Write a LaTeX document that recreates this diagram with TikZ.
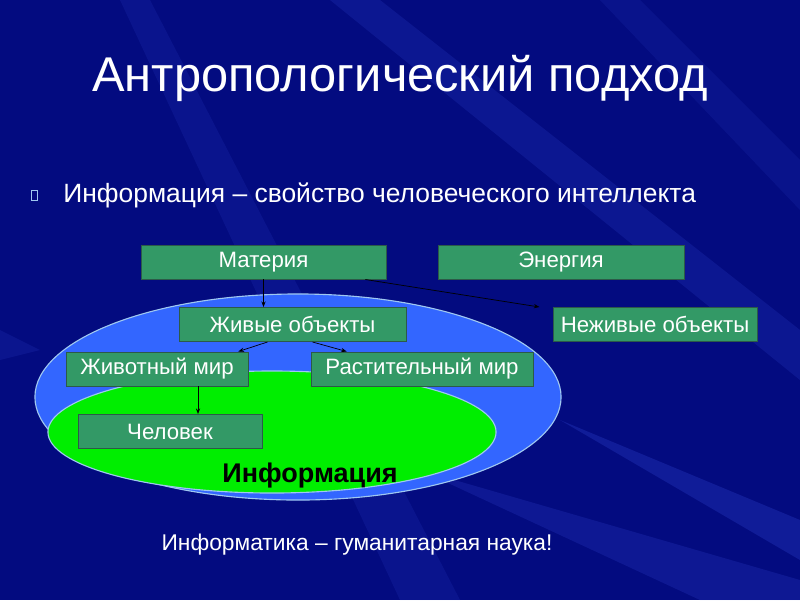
\documentclass[tikz,border=0pt]{standalone}
\usepackage{fontspec}
\setmainfont{Liberation Sans}
\usetikzlibrary{arrows.meta}

\definecolor{slidebg}{HTML}{030B80}
\definecolor{raycol}{HTML}{3A50E0}
\definecolor{boxgreen}{HTML}{339966}
\definecolor{boxline}{HTML}{2C5A48}
\definecolor{outerblue}{HTML}{3366FF}
\definecolor{innergreen}{HTML}{00EE00}
\definecolor{bulletcol}{HTML}{9FC8F0}

\begin{document}
\begin{tikzpicture}[x=0.025cm, y=-0.025cm,
    box/.style={rectangle, draw=boxline, fill=boxgreen, text=white, inner sep=0pt,
        minimum height=0.86cm, font=\fontsize{15.8}{18}\selectfont},
    link/.style={-{Stealth[length=4pt, width=3pt]}, black, line width=0.5pt}]
    % background
    \fill[slidebg] (0,0) rectangle (800,600);
    \useasboundingbox (0,0) rectangle (800,600);
    \fill[raycol, opacity=0.18] (330,0) -- (380,0) -- (800,330) -- (800,380) -- cycle;
    \fill[raycol, opacity=0.14] (120,0) -- (150,0) -- (460,600) -- (400,600) -- cycle;
    \fill[raycol, opacity=0.12] (600,0) -- (640,0) -- (800,160) -- (800,210) -- cycle;
    \fill[raycol, opacity=0.25] (560,420) -- (800,520) -- (800,560) -- cycle;
    \fill[raycol, opacity=0.20] (420,470) -- (800,580) -- (800,600) -- (700,600) -- cycle;
    \fill[raycol, opacity=0.15] (0,330) -- (0,360) -- (40,350) -- cycle;

    % title and bullet
    \node[text=white, font=\fontsize{34.7}{38}\selectfont] (title) at (400,78) {Антропологический подход};
    \node[draw=bulletcol, line width=0.5pt, inner sep=0pt, minimum width=0.15cm, minimum height=0.25cm] (bul) at (34,195) {};
    \node[text=white, anchor=west, inner sep=0pt, font=\fontsize{18.8}{22}\selectfont] (thesis) at (63,195)
        {Информация – свойство человеческого интеллекта};

    % ellipses
    \filldraw[fill=outerblue, draw=bulletcol, line width=0.8pt] (298,397) ellipse [x radius=6.575cm, y radius=2.575cm];
    \filldraw[fill=innergreen, draw=bulletcol, line width=0.8pt] (272,432) ellipse [x radius=5.6cm, y radius=1.525cm];
    \node[font=\fontsize{19.2}{22}\selectfont\bfseries] (info) at (310,476) {Информация};

    % boxes
    \node[box, minimum width=6.125cm] (mat) at (263.5,262) {Материя};
    \node[box, minimum width=6.15cm] (energy) at (561,262) {Энергия};
    \node[box, minimum width=5.675cm] (alive) at (292.5,324.5) {Живые объекты};
    \node[box, minimum width=5.1cm] (dead) at (655,324.5) {Неживые объекты};
    \node[box, minimum width=4.55cm] (animal) at (157,369) {Животный мир};
    \node[box, minimum width=5.55cm] (plant) at (422,369) {Растительный мир};
    \node[box, minimum width=4.6cm] (human) at (170,431.5) {Человек};

    % links
    \draw[link] (mat.south) -- (mat.south |- alive.north);
    \draw[link] ([xshift=-0.525cm]mat.south east) -- ([xshift=-0.33cm]dead.north west);
    \draw[link] ([xshift=-0.625cm]alive.south) -- ([xshift=-0.25cm]animal.north east);
    \draw[link] ([xshift=0.5cm]alive.south) -- ([xshift=0.9cm]plant.north west);
    \draw[link] ([xshift=1.025cm]animal.south) -- ([xshift=1.025cm]animal.south |- human.north);

    % closing line
    \node[text=white, font=\fontsize{16.2}{19}\selectfont] (note) at (357,545) {Информатика – гуманитарная наука!};
\end{tikzpicture}
\end{document}
